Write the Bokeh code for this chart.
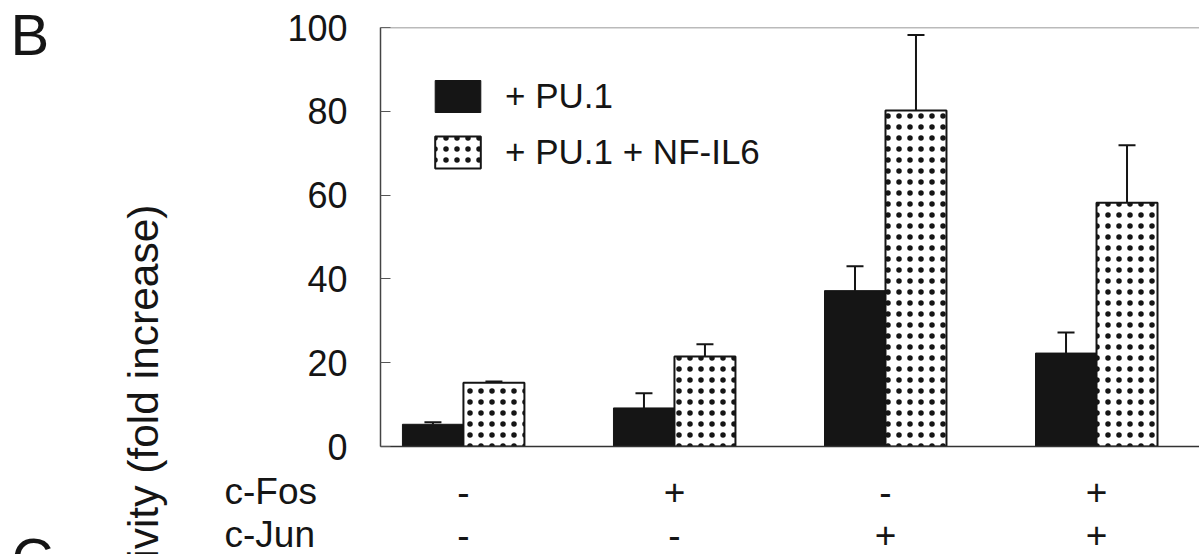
from bokeh.plotting import figure
from bokeh.layouts import row, column
from bokeh.models import (ColumnDataSource, Range1d, Whisker, TeeHead, Span,
                          Legend, LegendItem)
from bokeh.core.properties import value
from bokeh.embed import file_html
from bokeh.resources import INLINE
import math

# ---- data ----
groups = [0, 1, 2, 3]
fos = ["-", "+", "-", "+"]
jun = ["-", "-", "+", "+"]
pu1 = [5.3, 9.2, 37.2, 22.3]
pu1_err = [0.5, 3.5, 5.8, 4.9]
pu1_nf = [15.2, 21.5, 80.2, 58.2]
pu1_nf_err = [0.3, 2.9, 18.0, 13.7]
y_ticks = [0, 20, 40, 60, 80, 100]
series_names = ["+ PU.1", "+ PU.1 + NF-IL6"]
row_names = ["c-Fos", "c-Jun"]
row_index = [1, 0]
y_title = "Luciferase activity (fold increase)"

FONT = "Liberation Sans"
INK = "#151515"
W, H = 1199, 554
LEFT_W = 200          # strip holding panel letters and y title
TICK_W = 180          # room for y tick labels
MAIN_H = 465
ROW_H = H - MAIN_H


def bare(fig):
    fig.axis.visible = False
    fig.xgrid.visible = False
    fig.ygrid.visible = False
    fig.outline_line_color = None
    fig.background_fill_color = "white"
    fig.border_fill_color = "white"
    fig.min_border = 0
    return fig


# ---------------- main chart ----------------
xr = Range1d(-0.393, 3.488)
p = figure(width=W - LEFT_W, height=MAIN_H, output_backend="svg",
           toolbar_location=None, x_range=xr, y_range=Range1d(0, 100),
           min_border_left=TICK_W, min_border_right=0, min_border_top=27,
           min_border_bottom=MAIN_H - 446)
p.outline_line_color = None
p.xgrid.visible = False
p.ygrid.visible = False
p.background_fill_color = "white"
p.border_fill_color = "white"

off = 0.1445
bw = 0.289
src = ColumnDataSource(dict(
    x=groups,
    x1=[g - off for g in groups],
    x2=[g + off for g in groups],
    pu1=pu1,
    pu1_hi=[v + e for v, e in zip(pu1, pu1_err)],
    nf=pu1_nf,
    nf_hi=[v + e for v, e in zip(pu1_nf, pu1_nf_err)],
    fos=fos,
    jun=jun,
    yf=[row_index[0]] * len(groups),
    yj=[row_index[1]] * len(groups),
))

r1 = p.vbar(x="x1", top="pu1", width=bw, source=src,
            fill_color=INK, line_color=INK, line_width=1)
r2 = p.vbar(x="x2", top="nf", width=bw, source=src,
            fill_color="white", line_color=INK, line_width=2,
            hatch_pattern=".", hatch_scale=11, hatch_weight=0.8,
            hatch_color=INK)

for base, lo, hi in (("x1", "pu1", "pu1_hi"), ("x2", "nf", "nf_hi")):
    p.add_layout(Whisker(base=base, lower=lo, upper=hi, source=src,
                         lower_head=None,
                         upper_head=TeeHead(size=17, line_width=2, line_color=INK),
                         line_width=2, line_color=INK, level="overlay"))

p.add_layout(Span(location=100, dimension="width", line_color="#777",
                  line_width=1.5))

ya = p.yaxis[0]
ya.ticker = y_ticks
ya.major_tick_in = 10
ya.major_tick_out = 0
ya.minor_tick_line_color = None
ya.major_tick_line_color = "#555"
ya.axis_line_color = "#444"
ya.axis_line_width = 1.5
ya.major_label_text_font = FONT
ya.major_label_text_font_size = "36px"
ya.major_label_text_color = INK
ya.major_label_standoff = 33

xa = p.xaxis[0]
xa.ticker = []
xa.major_tick_in = 0
xa.major_tick_out = 0
xa.minor_tick_line_color = None
xa.major_label_standoff = 0
xa.major_label_text_font_size = "0px"
xa.axis_line_color = "#333"
xa.axis_line_width = 1.5

legend = Legend(items=[LegendItem(label=series_names[0], renderers=[r1]),
                       LegendItem(label=series_names[1], renderers=[r2])],
                location="top_left", margin=49, padding=0,
                glyph_width=57, glyph_height=40, label_height=38,
                spacing=16, label_standoff=19,
                label_text_font=FONT, label_text_font_size="35px",
                label_text_color=INK,
                border_line_color=None, background_fill_alpha=0)
p.add_layout(legend)

# ---------------- left strip: panel letters + y title ----------------
left = bare(figure(width=LEFT_W, height=H, output_backend="svg",
                   toolbar_location=None, x_range=Range1d(0, LEFT_W),
                   y_range=Range1d(0, H)))
left.text(x=[10], y=[H - 1], text=["B"], text_font=value(FONT),
          text_font_size="58px", text_color=INK, text_baseline="top",
          text_align="left")
left.text(x=[11], y=[H - 525], text=["C"], text_font=value(FONT),
          text_font_size="58px", text_color=INK, text_baseline="top",
          text_align="left")
left.text(x=[143], y=[H - 204], text=[y_title], angle=math.pi / 2,
          text_font=value(FONT), text_font_size="42.5px", text_color=INK,
          text_baseline="middle", text_align="right")

# ---------------- condition rows ----------------
row_y = Range1d(-0.465, 1.605)
rowlab = bare(figure(width=TICK_W, height=ROW_H, output_backend="svg",
                     toolbar_location=None, x_range=Range1d(0, TICK_W),
                     y_range=row_y))
rowlab.text(x=[24, 24], y=row_index, text=row_names, text_font=value(FONT),
            text_font_size="37px", text_color=INK, text_baseline="middle",
            text_align="left")

signs = bare(figure(width=W - LEFT_W - TICK_W, height=ROW_H,
                    output_backend="svg", toolbar_location=None,
                    x_range=xr, y_range=row_y))
signs.text(x="x", y="yf", text="fos", source=src, text_font=value(FONT),
           text_font_size="37px", text_color=INK, text_baseline="middle",
           text_align="center")
signs.text(x="x", y="yj", text="jun", source=src, text_font=value(FONT),
           text_font_size="37px", text_color=INK, text_baseline="middle",
           text_align="center")

layout = row(left, column(p, row(rowlab, signs)))
open("out.html", "w").write(file_html(layout, INLINE))
